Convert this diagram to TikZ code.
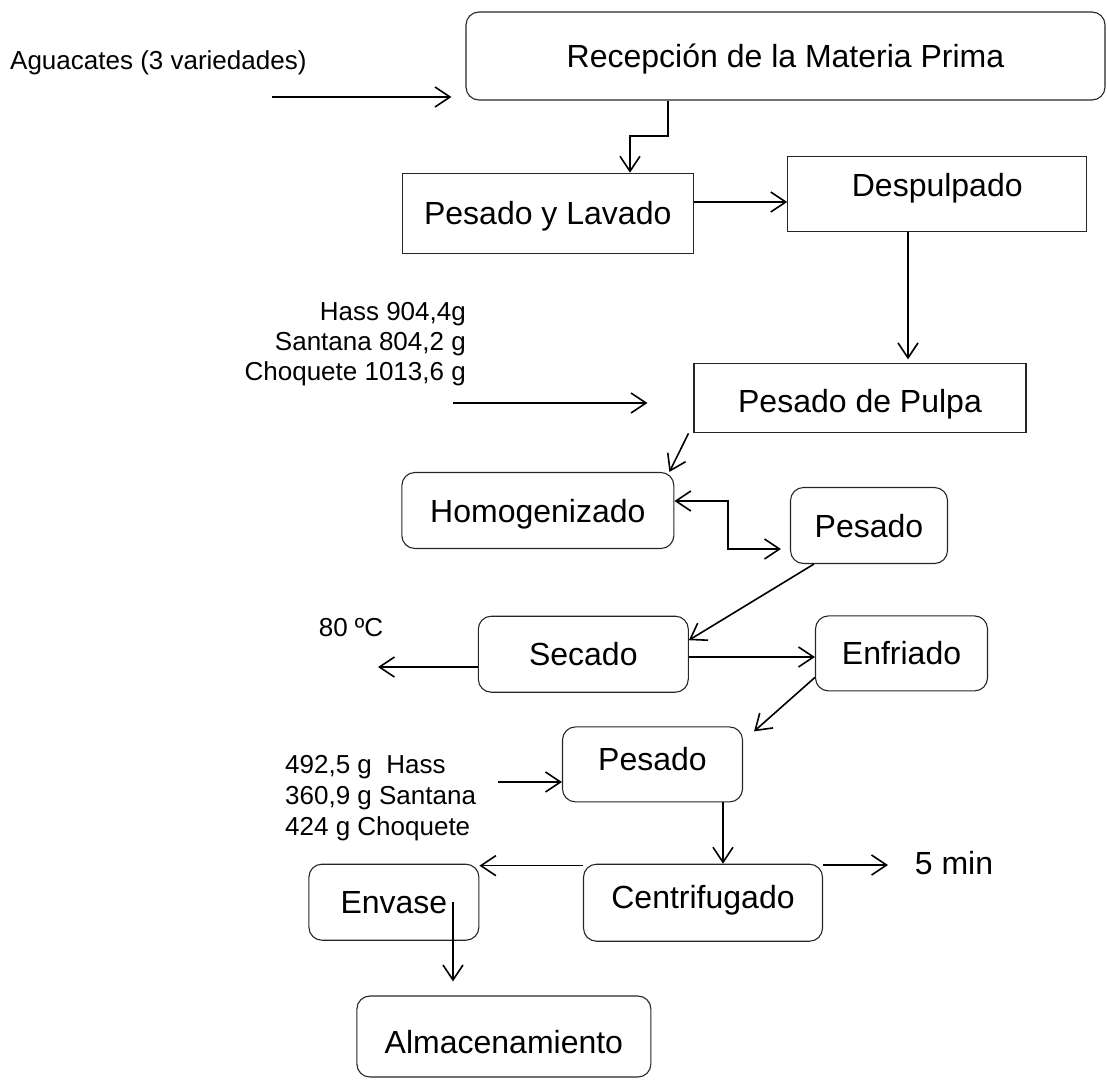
\documentclass[tikz,border=0pt]{standalone}
\usepackage{fontspec}
\setmainfont{Liberation Sans}
\usetikzlibrary{arrows.meta,calc}

\begin{document}
\begin{tikzpicture}[x=1pt, y=-1pt,
  >={Straight Barb[length=15pt,width=20pt]},
  box/.style={draw=black!85, line width=1.1pt, inner sep=0pt,
    font=\fontsize{32}{36}\selectfont, text height=30pt, text depth=7pt},
  rbox/.style={box, rounded corners=13pt},
  note/.style={inner sep=0pt, font=\fontsize{26}{30}\selectfont},
  flow/.style={line width=1.6pt, ->}]
\useasboundingbox (0,0) rectangle (1107,1079);
% etapas
\node[rbox, minimum width=639pt, minimum height=88pt] (recep) at (785.5,56) {Recepción de la Materia Prima};
\node[box, minimum width=291pt, minimum height=80pt] (pesLav) at (547.75,213.25) {Pesado y Lavado};
\node[box, minimum width=299pt, minimum height=75pt, text depth=25pt] (desp) at (937.25,194) {Despulpado};
\node[box, minimum width=332pt, minimum height=69pt, text depth=1pt] (pesPulpa) at (860,398.4) {Pesado de Pulpa};
\node[rbox, minimum width=272pt, minimum height=76pt] (homog) at (537.85,510.5) {Homogenizado\hspace{12pt}};
\node[rbox, minimum width=157pt, minimum height=76pt] (peso1) at (869,525.5) {Pesado};
\node[rbox, minimum width=210pt, minimum height=76pt] (secado) at (583.3,654.2) {Secado};
\node[rbox, minimum width=172pt, minimum height=75pt] (enfr) at (901.5,653.4) {Enfriado};
\node[rbox, minimum width=180pt, minimum height=75pt, text depth=18pt] (peso2) at (652.5,764.4) {Pesado\hspace{24pt}};
\node[rbox, minimum width=239pt, minimum height=77pt, text depth=19pt] (centrif) at (703,902.7) {Centrifugado\hspace{10pt}};
\node[rbox, minimum width=170pt, minimum height=76pt] (envase) at (393.9,902.2) {Envase};
\node[rbox, minimum width=294pt, minimum height=81pt, text height=40pt] (almac) at (503.9,1036.5) {Almacenamiento};
% entrada
\node[note, anchor=west] (agua) at (10,63) {Aguacates (3 variedades)};
\coordinate (aguaIn) at (272,97);
\draw[flow, shorten >=14pt] (aguaIn) -- (aguaIn -| recep.west);
\draw[flow] (recep.south -| 668,0) |- (630,136) -- (pesLav.north -| 630,0);
\draw[flow] (pesLav.east |- 0,202) -- (desp.west |- 0,202);
\draw[flow, shorten >=4pt] (desp.south -| 908,0) -- (pesPulpa.north -| 908,0);
% pulpa
\node[note, anchor=east, align=right] (pesos) at (466,344) {Hass 904,4g\\Santana 804,2 g\\Choquete 1013,6 g};
\coordinate (chqIn) at (453,403);
\draw[flow, shorten >=46pt] (chqIn) -- (chqIn -| pesPulpa.west);
\draw[flow] ([xshift=-5pt]pesPulpa.south west) -- ([xshift=-5pt]homog.north east);
\draw[flow, <->, shorten >=9pt] ([yshift=9.5pt]homog.east) -| (728,549) -- (peso1.west |- 0,549);
\draw[flow] ([xshift=24pt]peso1.south west) -- ([yshift=14pt]secado.east);
% secado
\node[note] (temp) at (351,628) {80 ºC};
\coordinate (tempOut) at (378,667);
\draw[flow] (secado.west |- tempOut) -- (tempOut);
\draw[flow] (secado.east |- 0,657) -- (enfr.west |- 0,657);
\draw[flow] ([yshift=-24pt]enfr.west) -- ([xshift=11pt,yshift=-5pt]peso2.north east);
% producto final
\node[note, anchor=west, align=left, font=\fontsize{26}{31}\selectfont] (final) at (285,798) {492,5 g\ \ Hass\\360,9 g Santana\\424 g Choquete};
\coordinate (finIn) at (498,782);
\draw[flow] (finIn) -- (finIn -| peso2.west);
\draw[flow] (peso2.south -| 723,0) -- (centrif.north -| 723,0);
\draw[flow] ([yshift=-2pt]centrif.north west) -- ([yshift=-2pt]envase.north east);
\coordinate (minOut) at (888,865);
\draw[flow] (centrif.north east |- minOut) -- (minOut);
\node[note, font=\fontsize{32}{36}\selectfont] (tiempo) at (954,863) {5 min};
\draw[flow, shorten >=14pt] (envase.center -| 453,0) -- (almac.north -| 453,0);
\end{tikzpicture}
\end{document}
